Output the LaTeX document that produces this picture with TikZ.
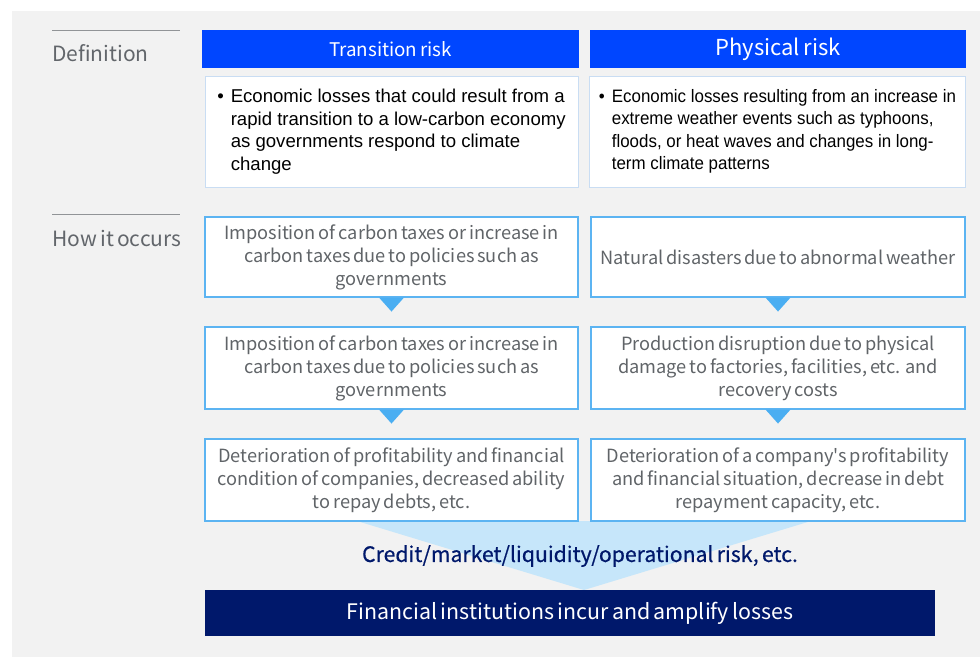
\documentclass[tikz,border=0pt]{standalone}
\usepackage{fontspec}
\setmainfont{Liberation Sans}
\newfontfamily\krfont[WordSpace=0.7]{Noto Sans CJK KR}
\newfontfamily\krmed[WordSpace=0.7,FakeBold=0.6]{Noto Sans CJK KR}
\newfontfamily\narrowfont[FakeStretch=0.94]{Liberation Sans}
\usetikzlibrary{calc}

\definecolor{panelgray}{HTML}{F2F2F2}
\definecolor{headblue}{HTML}{0046FF}
\definecolor{paleline}{HTML}{C9DDF3}
\definecolor{skyline}{HTML}{5CB4F2}
\definecolor{skytri}{HTML}{4AAEF2}
\definecolor{funnelblue}{HTML}{C6E6FA}
\definecolor{navy}{HTML}{00186B}
\definecolor{labelgray}{HTML}{62666B}
\definecolor{textgray}{HTML}{606468}

\begin{document}
\begin{tikzpicture}[x=1pt,y=-1pt,
    head/.style={fill=headblue, text=white, minimum height=38pt, inner sep=0pt, font=\krfont},
    defbox/.style={draw=paleline, fill=white, line width=1pt, minimum height=111pt, inner sep=0pt, align=left},
    stepbox/.style={draw=skyline, fill=white, line width=1.1pt, inner sep=0pt, align=center, text=textgray,
                    font=\krfont\fontsize{18.2}{23}\selectfont},
    label/.style={anchor=west, text=labelgray, inner sep=0pt, font=\krfont\fontsize{21}{24}\selectfont},
    tri/.style={fill=skytri}]
    \useasboundingbox (0,0) rectangle (980,657);
    \fill[panelgray] (12,11) rectangle (980,657);

    % row labels
    \draw[labelgray!70, line width=1pt] (52,30) -- (180,30);
    \draw[labelgray!70, line width=1pt] (52,214) -- (180,214);
    \node[label] (Ldef) at (52,53) {Definition};
    \node[label] (Lhow) at (52,238) {How it occurs};

    % headers
    \node[head, minimum width=377pt, font=\krfont\fontsize{18.8}{22}\selectfont] (TH) at (390.5,49) {Transition risk};
    \node[head, minimum width=376pt, font=\krfont\fontsize{22}{26}\selectfont] (PH) at (778,49) {Physical risk};

    % definitions
    \node[defbox, minimum width=373pt, font=\fontsize{18.6}{22.5}\selectfont] (TD) at (391.5,131.5)
        {\textbullet\hspace{7pt}Economic losses that could result from a\\
         \hphantom{\textbullet\hspace{7pt}}rapid transition to a low-carbon economy\\
         \hphantom{\textbullet\hspace{7pt}}as governments respond to climate\\
         \hphantom{\textbullet\hspace{7pt}}change};
    \node[defbox, minimum width=376pt, font=\narrowfont\fontsize{18}{22.5}\selectfont] (PD) at (777.5,131.5)
        {\textbullet\hspace{7pt}Economic losses resulting from an increase in\\
         \hphantom{\textbullet\hspace{7pt}}extreme weather events such as typhoons,\\
         \hphantom{\textbullet\hspace{7pt}}floods, or heat waves and changes in long-\\
         \hphantom{\textbullet\hspace{7pt}}term climate patterns};

    % funnel to financial institutions
    \fill[funnelblue] (357,521) -- (811,521) -- (584,590) -- cycle;

    % transition chain
    \node[stepbox, minimum width=373pt, minimum height=80pt] (T1) at (391.5,257)
        {Imposition of carbon taxes or increase in\\carbon taxes due to policies such as\\governments};
    \node[stepbox, minimum width=373pt, minimum height=82pt] (T2) at (391.5,368)
        {Imposition of carbon taxes or increase in\\carbon taxes due to policies such as\\governments};
    \node[stepbox, minimum width=373pt, minimum height=82pt] (T3) at (391.5,480)
        {Deterioration of profitability and financial\\condition of companies, decreased ability\\to repay debts, etc.};

    % physical chain
    \node[stepbox, minimum width=374pt, minimum height=80pt] (P1) at (778,257)
        {Natural disasters due to abnormal weather};
    \node[stepbox, minimum width=374pt, minimum height=82pt] (P2) at (778,368)
        {Production disruption due to physical\\damage to factories, facilities, etc. and\\recovery costs};
    \node[stepbox, minimum width=374pt, minimum height=82pt] (P3) at (778,480)
        {Deterioration of a company's profitability\\and financial situation, decrease in debt\\repayment capacity, etc.};

    \foreach \b in {T1,T2,P1,P2}
        \fill[tri] ($(\b.south)+(-12.5,0)$) -- ($(\b.south)+(12.5,0)$) -- ($(\b.south)+(0,14)$) -- cycle;

    \node[text=navy, inner sep=0pt, font=\krmed\fontsize{21.2}{26}\selectfont] (risk) at (580,556)
        {Credit/market/liquidity/operational risk, etc.};
    \node[fill=navy, text=white, minimum width=730pt, minimum height=46pt, inner sep=0pt,
          font=\krfont\fontsize{21.4}{26}\selectfont] (FI) at (570,613)
        {Financial institutions incur and amplify losses};
\end{tikzpicture}
\end{document}
